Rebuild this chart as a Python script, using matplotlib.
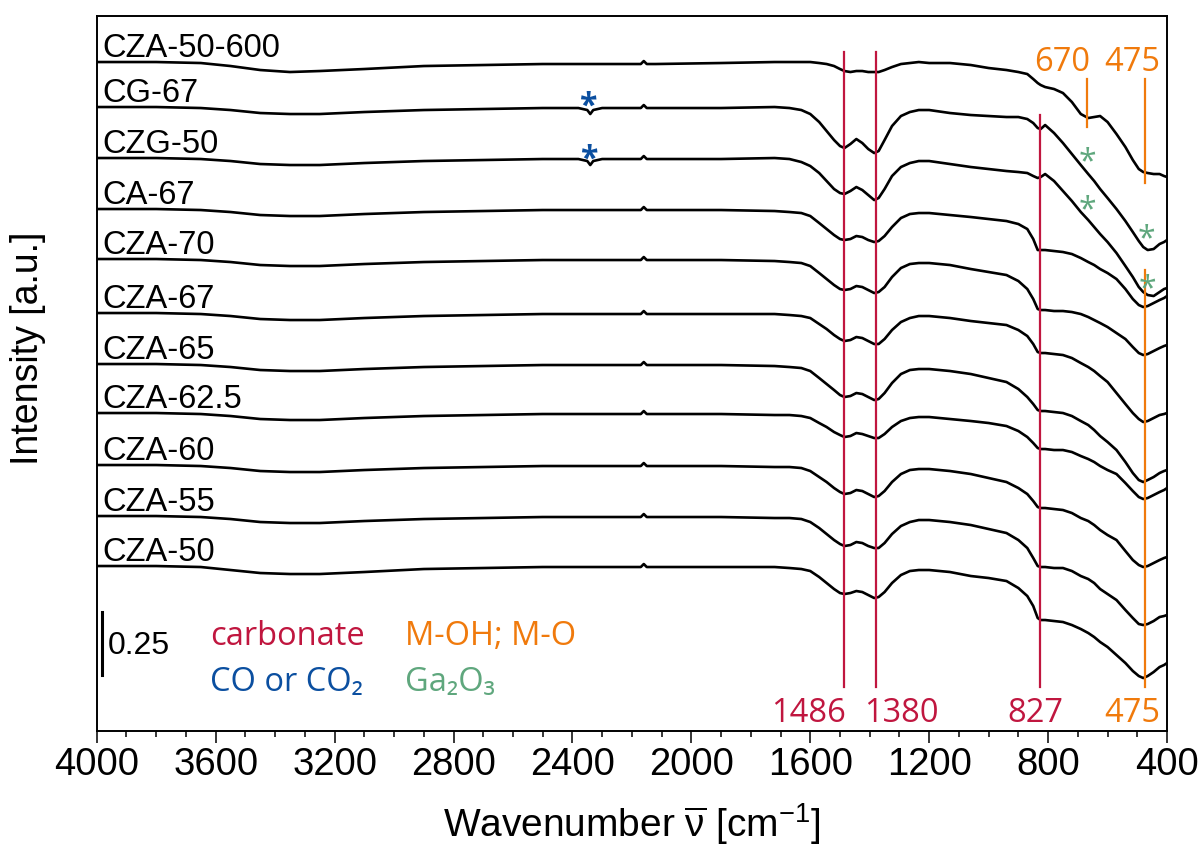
import matplotlib
matplotlib.use('Agg')
import matplotlib.pyplot as plt
from matplotlib.ticker import MultipleLocator
import numpy as np

plt.rcParams['font.family'] = ['Liberation Sans', 'DejaVu Sans']
plt.rcParams['mathtext.fontset'] = 'custom'
plt.rcParams['mathtext.rm'] = 'Liberation Sans'
plt.rcParams['mathtext.it'] = 'Liberation Sans'

# wavenumber grid (cm-1) shared by all spectra
wn = [4000, 3800, 3650, 3550, 3450, 3350, 3250, 3100, 2900, 2700,
      2500, 2380, 2350, 2340, 2330, 2300, 2170, 2160, 2150, 2120,
      1900, 1720, 1670, 1630, 1600, 1570, 1545, 1520, 1500, 1485,
      1465, 1445, 1425, 1405, 1385, 1370, 1350, 1325, 1295, 1265,
      1235, 1200, 1130, 1060, 1000, 940, 900, 870, 850, 835,
      825, 810, 780, 750, 720, 690, 665, 645, 625, 600,
      570, 540, 515, 495, 480, 465, 445, 425, 410, 400]

# intensity relative to the 4000 cm-1 value (63 units = 0.25 a.u.)
cza_50_600 = [0, 0, -1, -4, -8, -10, -9, -7, -4, -3,
              -2, -2, -2, -2, -2, -2, -2, 1, -2, -2,
              -1, 0, 0, 0, 0, -1, -2, -4, -7, -9,
              -10, -9, -9, -10, -10, -10, -8, -5, -2, -1,
              0, -1, -1, -3, -6, -8, -10, -12, -17, -21,
              -23, -25, -27, -31, -40, -52, -56, -55, -54, -60,
              -72, -85, -98, -107, -110, -111, -112, -112, -114, -115]
cg_67 = [0, 0, -1, -3, -6, -7, -7, -5, -3, -2,
         -1, -1, -3, -7, -3, -1, -1, 2, -1, -1,
         -1, 0, -1, -3, -7, -15, -24, -33, -39, -41,
         -37, -32, -36, -42, -46, -44, -33, -19, -9, -5,
         -3, -3, -6, -8, -9, -10, -10, -12, -16, -21,
         -22, -18, -26, -36, -47, -58, -67, -74, -82, -91,
         -102, -114, -125, -134, -140, -143, -142, -137, -135, -133]
czg_50 = [0, 0, -1, -3, -6, -7, -7, -5, -3, -2,
          -1, -1, -3, -7, -3, -1, -1, 2, -1, -1,
          -1, 0, -1, -4, -8, -15, -23, -31, -35, -36,
          -33, -29, -32, -37, -42, -40, -31, -18, -9, -5,
          -3, -3, -6, -9, -11, -13, -14, -15, -18, -20,
          -19, -16, -23, -33, -43, -54, -62, -69, -76, -84,
          -95, -108, -119, -129, -134, -137, -138, -134, -131, -130]
ca_67 = [0, 0, -1, -3, -6, -7, -7, -5, -3, -2,
         -1, -1, -1, -1, -1, -1, -1, 2, -1, -1,
         -1, -2, -3, -4, -7, -14, -20, -26, -30, -31,
         -30, -27, -28, -31, -33, -32, -27, -18, -9, -5,
         -4, -4, -6, -8, -10, -12, -15, -20, -30, -41,
         -41, -41, -42, -43, -45, -49, -53, -56, -60, -64,
         -70, -80, -90, -96, -98, -97, -94, -91, -89, -87]
cza_70 = [0, 0, -1, -3, -6, -7, -7, -5, -3, -2,
          -1, -1, -1, -1, -1, -1, -1, 2, -1, -1,
          -1, -2, -3, -4, -7, -14, -20, -26, -30, -31,
          -30, -27, -28, -31, -34, -33, -28, -18, -9, -5,
          -4, -4, -6, -10, -13, -16, -22, -30, -40, -50,
          -51, -51, -52, -52, -53, -55, -58, -61, -64, -68,
          -74, -80, -88, -94, -96, -95, -92, -89, -87, -86]
cza_67 = [0, 0, -1, -3, -6, -7, -7, -5, -3, -2,
          -1, -1, -1, -1, -1, -1, -1, 2, -1, -1,
          -1, -1, -2, -3, -5, -11, -16, -22, -26, -28,
          -27, -24, -25, -28, -31, -31, -26, -17, -9, -5,
          -3, -3, -5, -8, -10, -12, -17, -23, -31, -39,
          -40, -40, -41, -42, -45, -50, -54, -58, -63, -69,
          -80, -91, -100, -106, -109, -108, -105, -102, -101, -100]
cza_65 = [0, 0, -1, -3, -6, -7, -7, -5, -3, -2,
          -1, -1, -1, -1, -1, -1, -1, 2, -1, -1,
          -1, -2, -3, -4, -7, -14, -20, -26, -31, -33,
          -32, -29, -30, -33, -36, -35, -29, -19, -10, -6,
          -5, -5, -7, -10, -14, -18, -25, -33, -40, -46,
          -47, -47, -48, -49, -52, -57, -61, -66, -72, -78,
          -86, -98, -109, -116, -118, -116, -113, -109, -107, -106]
cza_625 = [0, 0, -1, -3, -6, -7, -7, -5, -3, -2,
           -1, -1, -1, -1, -1, -1, -1, 2, -1, -1,
           -1, -2, -2, -3, -5, -10, -14, -19, -22, -24,
           -23, -20, -21, -23, -25, -25, -21, -14, -8, -5,
           -4, -4, -6, -8, -10, -13, -18, -24, -30, -35,
           -36, -36, -37, -37, -39, -43, -46, -49, -53, -57,
           -61, -70, -78, -84, -86, -85, -82, -79, -77, -75]
cza_60 = [0, 0, -1, -3, -6, -7, -7, -5, -3, -2,
          -1, -1, -1, -1, -1, -1, -1, 2, -1, -1,
          -1, -2, -2, -3, -6, -12, -17, -23, -27, -29,
          -28, -25, -26, -29, -32, -31, -26, -17, -9, -5,
          -4, -4, -6, -9, -13, -17, -23, -29, -36, -42,
          -43, -43, -44, -45, -48, -53, -56, -60, -65, -70,
          -75, -86, -95, -100, -102, -101, -98, -95, -93, -92]
cza_55 = [0, 0, -1, -3, -6, -7, -7, -5, -3, -2,
          -1, -1, -1, -1, -1, -1, -1, 2, -1, -1,
          -1, -2, -2, -3, -6, -12, -18, -24, -28, -30,
          -29, -26, -27, -30, -32, -32, -27, -18, -10, -6,
          -4, -4, -6, -9, -13, -17, -24, -32, -42, -50,
          -51, -51, -52, -52, -55, -60, -63, -67, -73, -78,
          -84, -94, -102, -108, -109, -108, -105, -101, -100, -99]
cza_50 = [0, 0, -1, -4, -7, -8, -8, -6, -3, -2,
          -1, -1, -1, -1, -1, -1, -1, 2, -1, -1,
          -1, -1, -2, -3, -5, -11, -17, -23, -27, -28,
          -27, -25, -26, -29, -32, -31, -26, -17, -9, -5,
          -4, -4, -6, -10, -12, -15, -22, -30, -40, -52,
          -54, -54, -55, -56, -59, -63, -67, -71, -76, -81,
          -89, -97, -105, -110, -112, -110, -106, -101, -99, -97]

spectra = [cza_50_600, cg_67, czg_50, ca_67, cza_70, cza_67, cza_65, cza_625, cza_60, cza_55, cza_50]
names = ['CZA-50-600', 'CG-67', 'CZG-50', 'CA-67', 'CZA-70', 'CZA-67', 'CZA-65', 'CZA-62.5',
         'CZA-60', 'CZA-55', 'CZA-50']
offsets = [669, 624, 573, 522, 472, 418, 367, 318, 266, 215, 165]

carbonate_bands = [1486, 1380, 827]
moh_band = 475
top_bands = [670, 475]

red = '#C0163F'
orange = '#F07A0C'
blue = '#0B4FA0'
green = '#5FA77D'
ann = ['Open Sans', 'DejaVu Sans']

fig = plt.figure(figsize=(12.02, 8.57), dpi=100)
ax = fig.add_axes([0.0805, 0.147, 0.8904, 0.8343])

for y, name, off in zip(spectra, names, offsets):
    ax.plot(wn, np.array(y) + off, color='black', lw=1.9, solid_joinstyle='round')
    ax.text(3980, off + 5, name, fontsize=23.5, va='baseline', ha='left')

# band markers
for b, top in zip(carbonate_bands, [679, 679, 616]):
    ax.plot([b, b], [44, top], color=red, lw=1.6)
ax.plot([moh_band, moh_band], [44, 461], color=orange, lw=1.6)
for b, low in zip(top_bands, [604, 548]):
    ax.plot([b, b], [low, 652], color=orange, lw=1.6)

for x, s in zip([1606, 1293, 842], carbonate_bands):
    ax.text(x, 9, str(s), color=red, fontsize=23.5, family=ann, ha='center', va='baseline')
ax.text(517, 9, str(moh_band), color=orange, fontsize=23.5, family=ann, ha='center', va='baseline')
for x, s in zip([752, 517], top_bands):
    ax.text(x, 660, str(s), color=orange, fontsize=23.5, family=ann, ha='center', va='baseline')

# asterisks
for x, y in [(2348, 631), (2345, 578)]:
    ax.text(x, y - 16, '*', color=blue, fontsize=23, fontweight='bold', family=ann, ha='center', va='baseline')
for x, y in [(668, 576), (668, 528), (470, 499), (467, 449)]:
    ax.text(x, y - 16, '*', color=green, fontsize=23, family=ann, ha='center', va='baseline')

# scale bar and legend text
ax.plot([3982, 3982], [56, 119], color='black', lw=2.2)
ax.text(3962, 77, '0.25', fontsize=23, va='baseline', ha='left')
ax.text(3619, 86, 'carbonate', color=red, fontsize=23.5, family=ann, va='baseline')
ax.text(2964, 86, 'M-OH; M-O', color=orange, fontsize=23.5, family=ann, va='baseline')
ax.text(3619, 40, 'CO or CO\u2082', color=blue, fontsize=23.5, family=ann, va='baseline')
ax.text(2964, 40, 'Ga\u2082O\u2083', color=green, fontsize=23.5, family=ann, va='baseline')

ax.set_xlim(4000, 400)
ax.set_ylim(0, 715)
ax.set_yticks([])
ax.xaxis.set_major_locator(MultipleLocator(400))
ax.xaxis.set_minor_locator(MultipleLocator(100))
ax.tick_params(axis='x', which='major', direction='out', length=8.6, width=1.1, labelsize=27.5, pad=3)
ax.tick_params(axis='x', which='minor', direction='out', length=4.3, width=1.1)
for sp in ax.spines.values():
    sp.set_linewidth(1.4)

ax.set_xlabel(r'Wavenumber $\mathregular{\overline{\nu}}$ [cm$^{\mathregular{-1}}$]', fontsize=28, labelpad=13)
fig.text(0.0233, 0.594, 'Intensity [a.u.]', rotation=90, fontsize=27, ha='center', va='center')

plt.savefig('out.png', dpi=100)
